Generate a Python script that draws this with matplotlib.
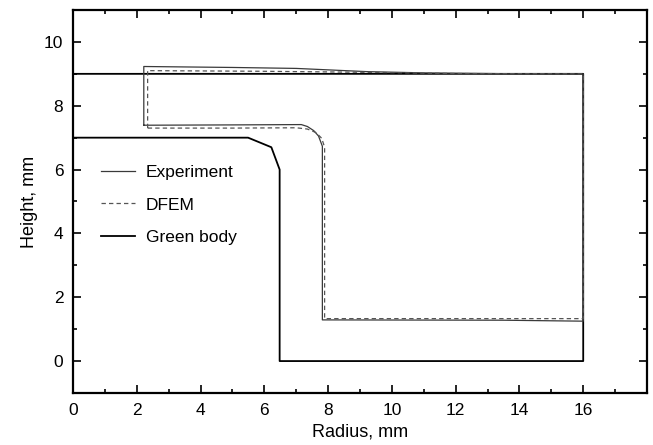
import matplotlib
matplotlib.use("Agg")
import matplotlib.pyplot as plt
from matplotlib.ticker import MultipleLocator

plt.rcParams['font.family'] = ['Liberation Sans', 'DejaVu Sans']

# Experiment contour
exp_r = [2.22, 2.22, 5.0, 7.0, 9.2, 11.0, 14.0, 16.0, 16.0, 13.5, 7.82, 7.82, 7.70, 7.55, 7.35, 7.16, 5.0, 2.22]
exp_h = [7.39, 9.23, 9.20, 9.17, 9.07, 9.03, 9.00, 9.00, 1.25, 1.28, 1.29, 6.73, 7.05, 7.22, 7.35, 7.41, 7.40, 7.39]

# DFEM contour
dfem_r = [2.34, 2.34, 6.0, 9.0, 12.0, 16.0, 16.0, 7.89, 7.89, 7.80, 7.62, 7.35, 7.00, 5.0, 2.34]
dfem_h = [7.30, 9.10, 9.08, 9.05, 9.01, 9.00, 1.33, 1.33, 6.70, 6.98, 7.16, 7.27, 7.31, 7.30, 7.30]

# Green body contour
green_r = [0.0, 16.0, 16.0, 6.48, 6.48, 6.22, 5.49, 0.0]
green_h = [9.0, 9.0, 0.0, 0.0, 6.0, 6.70, 7.0, 7.0]

fig = plt.figure(figsize=(6.53, 4.45), dpi=100)
ax = fig.add_axes([0.1118, 0.1169, 0.8790, 0.8606])

ax.plot(green_r, green_h, color='black', lw=1.3, label='Green body', zorder=2)
ax.plot(exp_r, exp_h, color='#3a3a3a', lw=0.9, label='Experiment', zorder=3)
ax.plot(dfem_r, dfem_h, color='#555555', lw=0.9, ls=(0, (3.5, 2.5)), label='DFEM', zorder=3)

ax.set_xlim(0, 18)
ax.set_ylim(-1, 11)
ax.xaxis.set_major_locator(MultipleLocator(2))
ax.xaxis.set_minor_locator(MultipleLocator(1))
ax.yaxis.set_major_locator(MultipleLocator(2))
ax.yaxis.set_minor_locator(MultipleLocator(1))
ax.set_xticks([0, 2, 4, 6, 8, 10, 12, 14, 16])
ax.tick_params(which='both', direction='in', top=True, right=True, labelsize=12.5, width=1.2)
ax.tick_params(which='major', length=6, pad=7)
ax.tick_params(which='minor', length=3)
for s in ax.spines.values():
    s.set_linewidth(1.6)

ax.set_xlabel('Radius, mm', fontsize=13, labelpad=4)
ax.set_ylabel('Height, mm', fontsize=13, labelpad=4)

handles, labels = ax.get_legend_handles_labels()
order = [1, 2, 0]
ax.legend([handles[i] for i in order], [labels[i] for i in order],
          loc='center left', bbox_to_anchor=(0.021, 0.491), frameon=False,
          fontsize=12.5, handlelength=2.0, handletextpad=0.6, labelspacing=1.02)

fig.savefig('out.png', dpi=100)
